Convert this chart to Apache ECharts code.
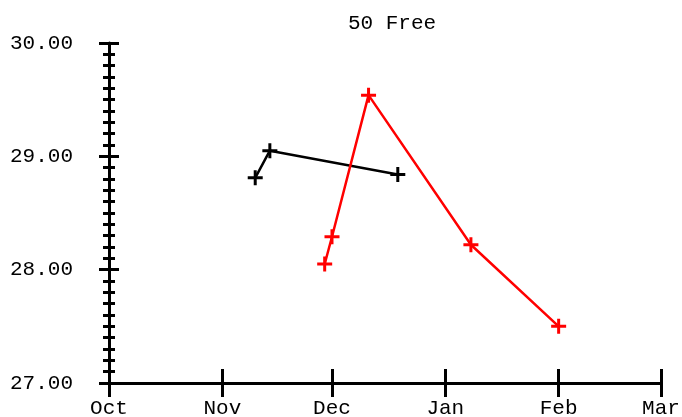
<!DOCTYPE html>
<html><head><meta charset="utf-8">
<script src="https://cdn.jsdelivr.net/npm/echarts@6/dist/echarts.min.js"></script>
<style>html,body{margin:0;padding:0;background:#fff}#c{width:682px;height:417px}</style>
</head><body><div id="c"></div>
<script>
const title = '50 Free';
const blackDates = ['2022-11-10', '2022-11-14', '2022-12-19'];
const blackTimes = [28.81, 29.05, 28.84];
const redDates = ['2022-11-29', '2022-12-01', '2022-12-11', '2023-01-08', '2023-02-01'];
const redTimes = [28.05, 28.29, 29.54, 28.22, 27.50];
const xMin = '2022-10-01';
const xMax = '2023-03-01';
const yMin = 27, yMax = 30, yStep = 1;
const monthNames = ['Jan','Feb','Mar','Apr','May','Jun','Jul','Aug','Sep','Oct','Nov','Dec'];

const font = 'Liberation Mono';
const plus = 'path://M6,0 h3 v6 h6 v3 h-6 v6 h-3 v-6 h-6 v-3 h6 z';
const gridBox = {left: 109, right: 21, top: 43, bottom: 34, outerBoundsMode: 'none', containLabel: false};
const DAY = 86400000;

function xAxisDef(idx, inside) {
  return {
    type: 'time', gridIndex: idx, min: xMin, max: xMax,
    minInterval: 28 * DAY, maxInterval: 31 * DAY,
    splitLine: {show: false},
    axisLine: {show: !inside, lineStyle: {color: '#000', width: 3}},
    axisTick: {show: true, inside: inside, length: 14, lineStyle: {color: '#000', width: 3}},
    axisLabel: {show: !inside, margin: 15, color: '#000', fontFamily: font, fontSize: 21,
      formatter: v => monthNames[new Date(v).getMonth()], showMinLabel: true, showMaxLabel: true}
  };
}
function yAxisDef(idx, inside) {
  return {
    type: 'value', gridIndex: idx, min: yMin, max: yMax, interval: yStep,
    splitLine: {show: false},
    axisLine: {show: !inside, lineStyle: {color: '#000', width: 3}},
    axisTick: {show: true, inside: inside, length: 10, lineStyle: {color: '#000', width: 3}},
    minorTick: {show: true, splitNumber: 10, length: 6, lineStyle: {color: '#000', width: 3}},
    axisLabel: {show: !inside, margin: 36, color: '#000', fontFamily: font, fontSize: 21,
      padding: [8, 0, 0, 0], formatter: v => v.toFixed(2)}
  };
}
const chart = echarts.init(document.getElementById('c'), null, {renderer: 'canvas'});
chart.setOption({
  animation: false,
  backgroundColor: '#fff',
  title: {text: title, left: 387, top: 8, textAlign: 'center',
    textStyle: {fontFamily: font, fontSize: 21, fontWeight: 'normal', color: '#000'}},
  grid: [Object.assign({}, gridBox), Object.assign({}, gridBox)],
  xAxis: [xAxisDef(0, false), xAxisDef(1, true)],
  yAxis: [yAxisDef(0, false), yAxisDef(1, true)],
  series: [
    {type: 'line', xAxisIndex: 0, yAxisIndex: 0,
     data: blackDates.map((d, i) => [d, blackTimes[i]]),
     symbol: plus, symbolSize: 15, showSymbol: true,
     lineStyle: {color: '#000', width: 2.5}, itemStyle: {color: '#000'}},
    {type: 'line', xAxisIndex: 0, yAxisIndex: 0,
     data: redDates.map((d, i) => [d, redTimes[i]]),
     symbol: plus, symbolSize: 15, showSymbol: true,
     lineStyle: {color: '#ff0000', width: 2.5}, itemStyle: {color: '#ff0000'}}
  ]
});
</script></body></html>
